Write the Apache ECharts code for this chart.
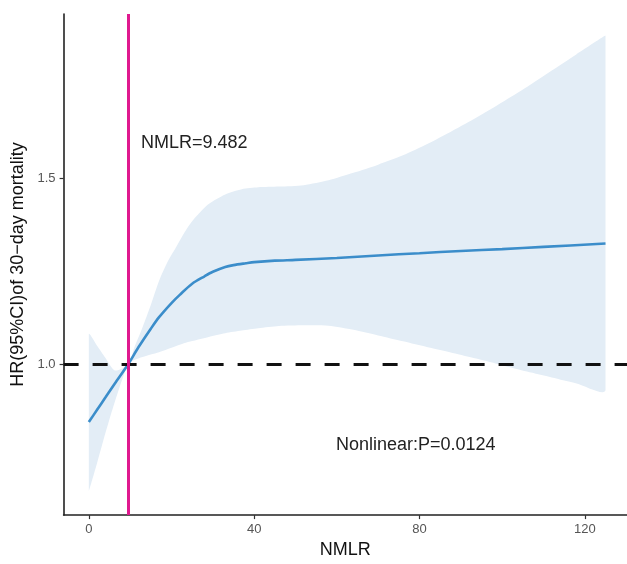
<!DOCTYPE html>
<html>
<head>
<meta charset="utf-8">
<script src="https://cdn.jsdelivr.net/npm/echarts@6/dist/echarts.min.js"></script>
<style>
  html, body { margin: 0; padding: 0; background: #fff; }
  #chart { width: 627px; height: 564px; }
</style>
</head>
<body>
<div id="chart"></div>
<script>
  // restricted cubic spline: HR with 95% CI band
  var bandX = [0, 2, 4, 6.3, 9.482, 11, 13, 15, 17, 19, 21, 23, 25, 29, 33, 37, 41, 46, 52, 58, 64, 70, 76, 82, 88, 94, 100, 106, 112, 118, 125];
  var bandLower = [0.66, 0.735, 0.815, 0.9, 1.0, 1.012, 1.02, 1.027, 1.033, 1.041, 1.049, 1.057, 1.063, 1.074, 1.084, 1.091, 1.097, 1.103, 1.105, 1.104, 1.093, 1.078, 1.062, 1.046, 1.031, 1.015, 0.998, 0.981, 0.965, 0.949, 0.931];
  var bandUpper = [1.081, 1.05, 1.018, 0.984, 1.0, 1.045, 1.1, 1.16, 1.225, 1.275, 1.313, 1.352, 1.385, 1.431, 1.457, 1.471, 1.476, 1.478, 1.482, 1.495, 1.515, 1.537, 1.562, 1.593, 1.628, 1.665, 1.705, 1.746, 1.79, 1.834, 1.884];

  var curveX = [0, 2, 4, 6.3, 9.482, 12, 15, 17, 20, 22, 25, 28, 30, 33, 35, 38, 40, 45, 50, 60, 70, 80, 90, 100, 110, 125];
  var curveHR = [0.845, 0.878, 0.911, 0.949, 1.0, 1.046, 1.096, 1.127, 1.165, 1.187, 1.217, 1.237, 1.249, 1.262, 1.267, 1.272, 1.275, 1.279, 1.281, 1.286, 1.293, 1.299, 1.305, 1.31, 1.316, 1.325];

  var xTicks = [0, 40, 80, 120];
  var yTicks = [1.0, 1.5];
  var refX = 9.482;
  var refHR = 1.0;

  var font = "'Liberation Sans', Arial, sans-serif";

  var bandData = [], curveData = [];
  for (var i = 0; i < bandX.length; i++) {
    bandData.push([bandX[i], bandLower[i], bandUpper[i]]);
  }
  for (var j = 0; j < curveX.length; j++) {
    curveData.push([curveX[j], curveHR[j]]);
  }

  // CI ribbon drawn once as a polygon: upper edge forward, lower edge back
  function renderBand(params, api) {
    if (params.dataIndex !== 0) return null;
    var pts = [];
    for (var k = 0; k < bandData.length; k++) {
      pts.push(api.coord([bandData[k][0], bandData[k][2]]));
    }
    for (var m = bandData.length - 1; m >= 0; m--) {
      pts.push(api.coord([bandData[m][0], bandData[m][1]]));
    }
    var minP = [Infinity, Infinity], maxP = [-Infinity, -Infinity];
    pts.forEach(function (p) {
      minP[0] = Math.min(minP[0], p[0]); minP[1] = Math.min(minP[1], p[1]);
      maxP[0] = Math.max(maxP[0], p[0]); maxP[1] = Math.max(maxP[1], p[1]);
    });
    return {
      type: 'polygon',
      shape: { points: pts, smooth: 0.25, smoothConstraint: [minP, maxP] },
      style: { fill: '#e3edf6', stroke: null }
    };
  }

  var myChart = echarts.init(document.getElementById('chart'));
  var option = {
    animation: false,
    backgroundColor: '#fff',
    grid: { left: 63.6, right: 0, top: 14, bottom: 42 },
    xAxis: {
      type: 'value',
      min: -6.1,
      max: 130.2,
      name: 'NMLR',
      nameLocation: 'middle',
      nameGap: 20,
      nameTextStyle: { fontFamily: font, fontSize: 18, color: '#111' },
      axisLine: { onZero: false, lineStyle: { color: '#222', width: 1.6 } },
      axisTick: { customValues: xTicks, length: 4, lineStyle: { color: '#333', width: 1.2 } },
      axisLabel: { customValues: xTicks, fontFamily: font, fontSize: 13, color: '#555', margin: 8 },
      splitLine: { show: false }
    },
    yAxis: {
      type: 'value',
      min: 0.595,
      max: 1.942,
      name: 'HR(95%CI)of 30\u2212day mortality',
      nameLocation: 'middle',
      nameGap: 33,
      nameTextStyle: { fontFamily: font, fontSize: 18, color: '#111' },
      axisLine: { show: true, onZero: false, lineStyle: { color: '#222', width: 1.6 } },
      axisTick: { show: true, customValues: yTicks, length: 4, lineStyle: { color: '#333', width: 1.2 } },
      axisLabel: {
        customValues: yTicks, fontFamily: font, fontSize: 13, color: '#555', margin: 8,
        formatter: function (v) { return v.toFixed(1); }
      },
      splitLine: { show: false }
    },
    series: [{
      type: 'custom',
      data: bandData,
      renderItem: renderBand,
      encode: { x: 0, y: [1, 2] },
      silent: true,
      z: 1
    }, {
      type: 'line',
      data: curveData,
      smooth: 0.3,
      symbol: 'none',
      lineStyle: { color: '#3b8dca', width: 2.6 },
      z: 3,
      markLine: {
        silent: true,
        symbol: 'none',
        label: { show: false },
        data: [{
          yAxis: refHR,
          lineStyle: { color: '#111', width: 3, type: [15, 14] }
        }, {
          xAxis: refX,
          lineStyle: { color: '#e0198f', width: 3, type: 'solid' }
        }]
      }
    }],
    graphic: [{
      type: 'text',
      left: 141,
      top: 134,
      style: { text: 'NMLR=9.482', font: '18px ' + font, fill: '#222' }
    }, {
      type: 'text',
      left: 336,
      top: 436,
      style: { text: 'Nonlinear:P=0.0124', font: '18px ' + font, fill: '#222' }
    }]
  };
  myChart.setOption(option);
</script>
</body>
</html>
